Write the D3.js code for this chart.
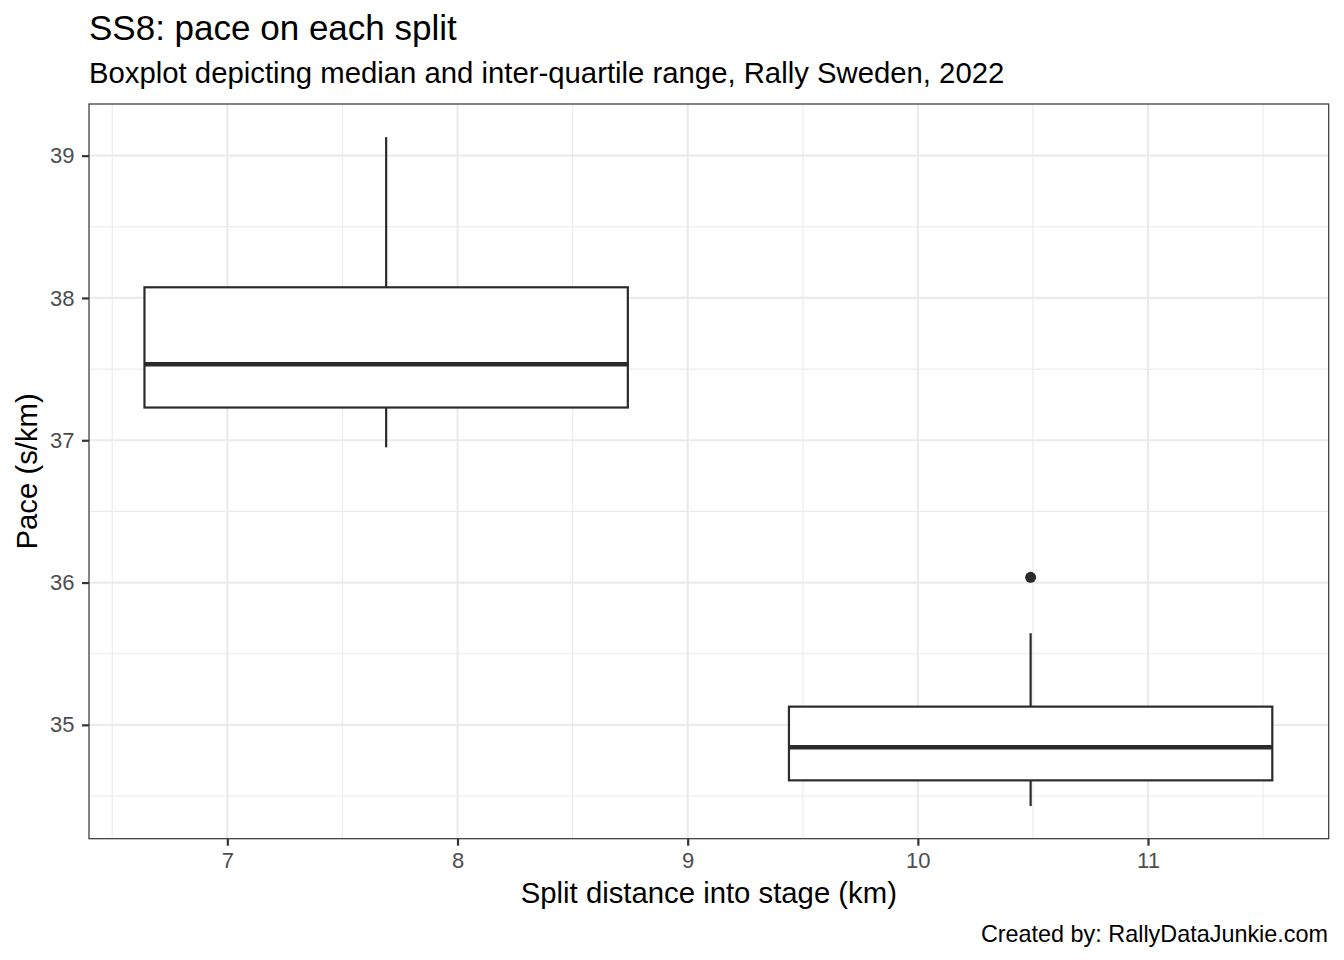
<!DOCTYPE html>
<html><head><meta charset="utf-8">
<script src="https://cdn.jsdelivr.net/npm/d3@7"></script>
<style>body{margin:0;background:#fff}svg{display:block;font-family:"Liberation Sans",Arial,Helvetica,sans-serif}</style>
</head><body><svg id="c" width="1344" height="960"></svg>
<script>
const splits = [7.69, 10.49];
const whiskerLow = [36.95, 34.43];
const q1 = [37.23, 34.61];
const median = [37.534, 34.843];
const q3 = [38.075, 35.128];
const whiskerHigh = [39.13, 35.644];
const outliers = [[10.49, 36.037]];
const xTicks = [7, 8, 9, 10, 11];
const xMinor = [6.5, 7.5, 8.5, 9.5, 10.5, 11.5];
const yTicks = [35, 36, 37, 38, 39];
const yMinor = [34.5, 35.5, 36.5, 37.5, 38.5];
const boxWidth = 2.1;

const svg = d3.select("#c");
const L = 89, R = 1328.7, T = 104, B = 838.7;
const x = d3.scaleLinear().domain([6.399, 11.785]).range([L, R]);
const y = d3.scaleLinear().domain([34.20, 39.363]).range([B, T]);
const dark = "#2b2b2b";

svg.append("rect").attr("x", L).attr("y", T).attr("width", R-L).attr("height", B-T).attr("fill", "#fff");
const g = svg.append("g");
g.selectAll(".xm").data(xMinor).join("line").attr("x1", d=>x(d)).attr("x2", d=>x(d)).attr("y1", T).attr("y2", B).attr("stroke", "#ebebeb").attr("stroke-width", 1.1);
g.selectAll(".ym").data(yMinor).join("line").attr("y1", d=>y(d)).attr("y2", d=>y(d)).attr("x1", L).attr("x2", R).attr("stroke", "#ebebeb").attr("stroke-width", 1.1);
g.selectAll(".xM").data(xTicks).join("line").attr("x1", d=>x(d)).attr("x2", d=>x(d)).attr("y1", T).attr("y2", B).attr("stroke", "#ebebeb").attr("stroke-width", 2.2);
g.selectAll(".yM").data(yTicks).join("line").attr("y1", d=>y(d)).attr("y2", d=>y(d)).attr("x1", L).attr("x2", R).attr("stroke", "#ebebeb").attr("stroke-width", 2.2);

// boxes
const idx = d3.range(splits.length);
const bg = svg.append("g");
bg.selectAll(".wh").data(idx).join("line").attr("x1", i=>x(splits[i])).attr("x2", i=>x(splits[i])).attr("y1", i=>y(q3[i])).attr("y2", i=>y(whiskerHigh[i])).attr("stroke", dark).attr("stroke-width", 2.2);
bg.selectAll(".wl").data(idx).join("line").attr("x1", i=>x(splits[i])).attr("x2", i=>x(splits[i])).attr("y1", i=>y(q1[i])).attr("y2", i=>y(whiskerLow[i])).attr("stroke", dark).attr("stroke-width", 2.2);
bg.selectAll(".bx").data(idx).join("rect").attr("x", i=>x(splits[i]-boxWidth/2)).attr("width", i=>x(splits[i]+boxWidth/2)-x(splits[i]-boxWidth/2))
  .attr("y", i=>y(q3[i])).attr("height", i=>y(q1[i])-y(q3[i])).attr("fill", "#fff").attr("stroke", dark).attr("stroke-width", 2.2);
bg.selectAll(".md").data(idx).join("line").attr("x1", i=>x(splits[i]-boxWidth/2)).attr("x2", i=>x(splits[i]+boxWidth/2)).attr("y1", i=>y(median[i])).attr("y2", i=>y(median[i])).attr("stroke", dark).attr("stroke-width", 4.4);
bg.selectAll(".ol").data(outliers).join("circle").attr("cx", d=>x(d[0])).attr("cy", d=>y(d[1])).attr("r", 5.5).attr("fill", dark);

svg.append("rect").attr("x", L).attr("y", T).attr("width", R-L).attr("height", B-T).attr("fill", "none").attr("stroke", "#333333").attr("stroke-width", 1.2);

// axes
const xa = svg.append("g").attr("transform", `translate(0,${B})`).call(d3.axisBottom(x).tickValues(xTicks).tickSize(7).tickPadding(7).tickFormat(d3.format("d")));
const ya = svg.append("g").attr("transform", `translate(${L},0)`).call(d3.axisLeft(y).tickValues(yTicks).tickSize(7).tickPadding(7.5).tickFormat(d3.format("d")));
[xa, ya].forEach(a => {
  a.attr("font-size", 22).attr("font-family", "Liberation Sans, Arial, sans-serif");
  a.select(".domain").remove();
  a.selectAll(".tick line").attr("stroke", "#333333").attr("stroke-width", 2.2);
  a.selectAll(".tick text").attr("fill", "#4d4d4d");
});

svg.append("text").attr("x", 89).attr("y", 40).attr("font-size", 35).attr("fill", "#000").text("SS8: pace on each split");
svg.append("text").attr("x", 89).attr("y", 83).attr("font-size", 29.3).attr("fill", "#000").text("Boxplot depicting median and inter-quartile range, Rally Sweden, 2022");
svg.append("text").attr("x", (L+R)/2).attr("y", 903).attr("text-anchor", "middle").attr("font-size", 29.3).attr("fill", "#000").text("Split distance into stage (km)");
svg.append("text").attr("transform", `translate(37,${(T+B)/2}) rotate(-90)`).attr("text-anchor", "middle").attr("font-size", 29.3).attr("fill", "#000").text("Pace (s/km)");
svg.append("text").attr("x", 1328).attr("y", 942).attr("text-anchor", "end").attr("font-size", 23.4).attr("fill", "#000").text("Created by: RallyDataJunkie.com");
</script></body></html>
